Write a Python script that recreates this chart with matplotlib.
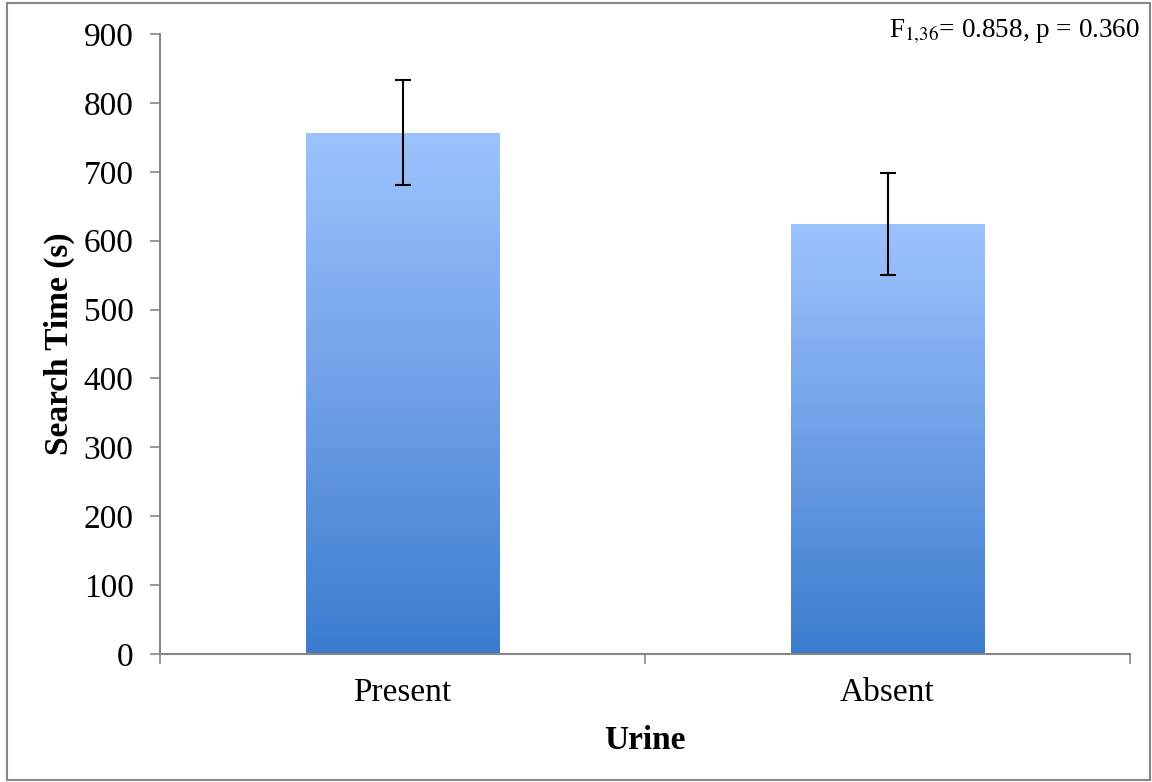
import matplotlib
matplotlib.use("Agg")
import matplotlib.pyplot as plt
import numpy as np
from matplotlib.colors import LinearSegmentedColormap
from matplotlib.patches import Rectangle

categories = ["Present", "Absent"]
values = [757, 624]
errors = [76, 74]
yticks = [0, 100, 200, 300, 400, 500, 600, 700, 800, 900]

plt.rcParams['font.family'] = ['Liberation Serif', 'DejaVu Serif']

fig = plt.figure(figsize=(11.52, 7.82), dpi=100)
ax = fig.add_axes([160/1152, 1-654/782, (1130-160)/1152, (654-34)/782])

cmap = LinearSegmentedColormap.from_list("g", ["#3B7CCF", "#6FA0E6", "#9DC3FE"])
x = np.arange(len(categories))
width = 0.4
grad = np.linspace(0, 1, 256).reshape(-1, 1)
for xi, v in zip(x, values):
    rect = Rectangle((xi - width/2, 0), width, v, facecolor='none', edgecolor='none')
    ax.add_patch(rect)
    im = ax.imshow(grad, cmap=cmap, origin='lower', aspect='auto',
                   extent=[xi - width/2, xi + width/2, 0, v], zorder=2)
    im.set_clip_path(rect)

ax.errorbar(x, values, yerr=errors, fmt='none', ecolor='black', elinewidth=1.5,
            capsize=6, capthick=1.5, zorder=3)

ax.set_xlim(-0.5, 1.5)
ax.set_ylim(0, 900)
ax.set_yticks(yticks)
ax.set_xticks(x)
ax.set_xticklabels(categories)
ax.set_xticks([-0.5, 0.5, 1.5], minor=True)
ax.tick_params(axis='x', which='major', length=0, pad=17, labelsize=24)
ax.tick_params(axis='x', which='minor', length=7, color='#868686', width=1.2, direction='out')
ax.tick_params(axis='y', length=7, color='#868686', width=1.2, direction='out', labelsize=24, pad=12)

for s in ['top', 'right']:
    ax.spines[s].set_visible(False)
for s in ['left', 'bottom']:
    ax.spines[s].set_color('#868686')
    ax.spines[s].set_linewidth(1.5)

ax.set_ylabel("Search Time (s)", fontsize=24, fontweight='bold', labelpad=6)
ax.set_xlabel("Urine", fontsize=24, fontweight='bold', labelpad=12)

fig.text(1140/1152, 1-38/782, r"F$_{1{,}36}$= 0.858, p = 0.360", ha='right', va='baseline', fontsize=19.5,
         math_fontfamily='stix')

fig.patches.append(Rectangle((7/1152, 2/782), 1143/1152, 777/782, transform=fig.transFigure,
                             facecolor='none', edgecolor='#868686', linewidth=1.5))

fig.savefig("out.png", dpi=100)
